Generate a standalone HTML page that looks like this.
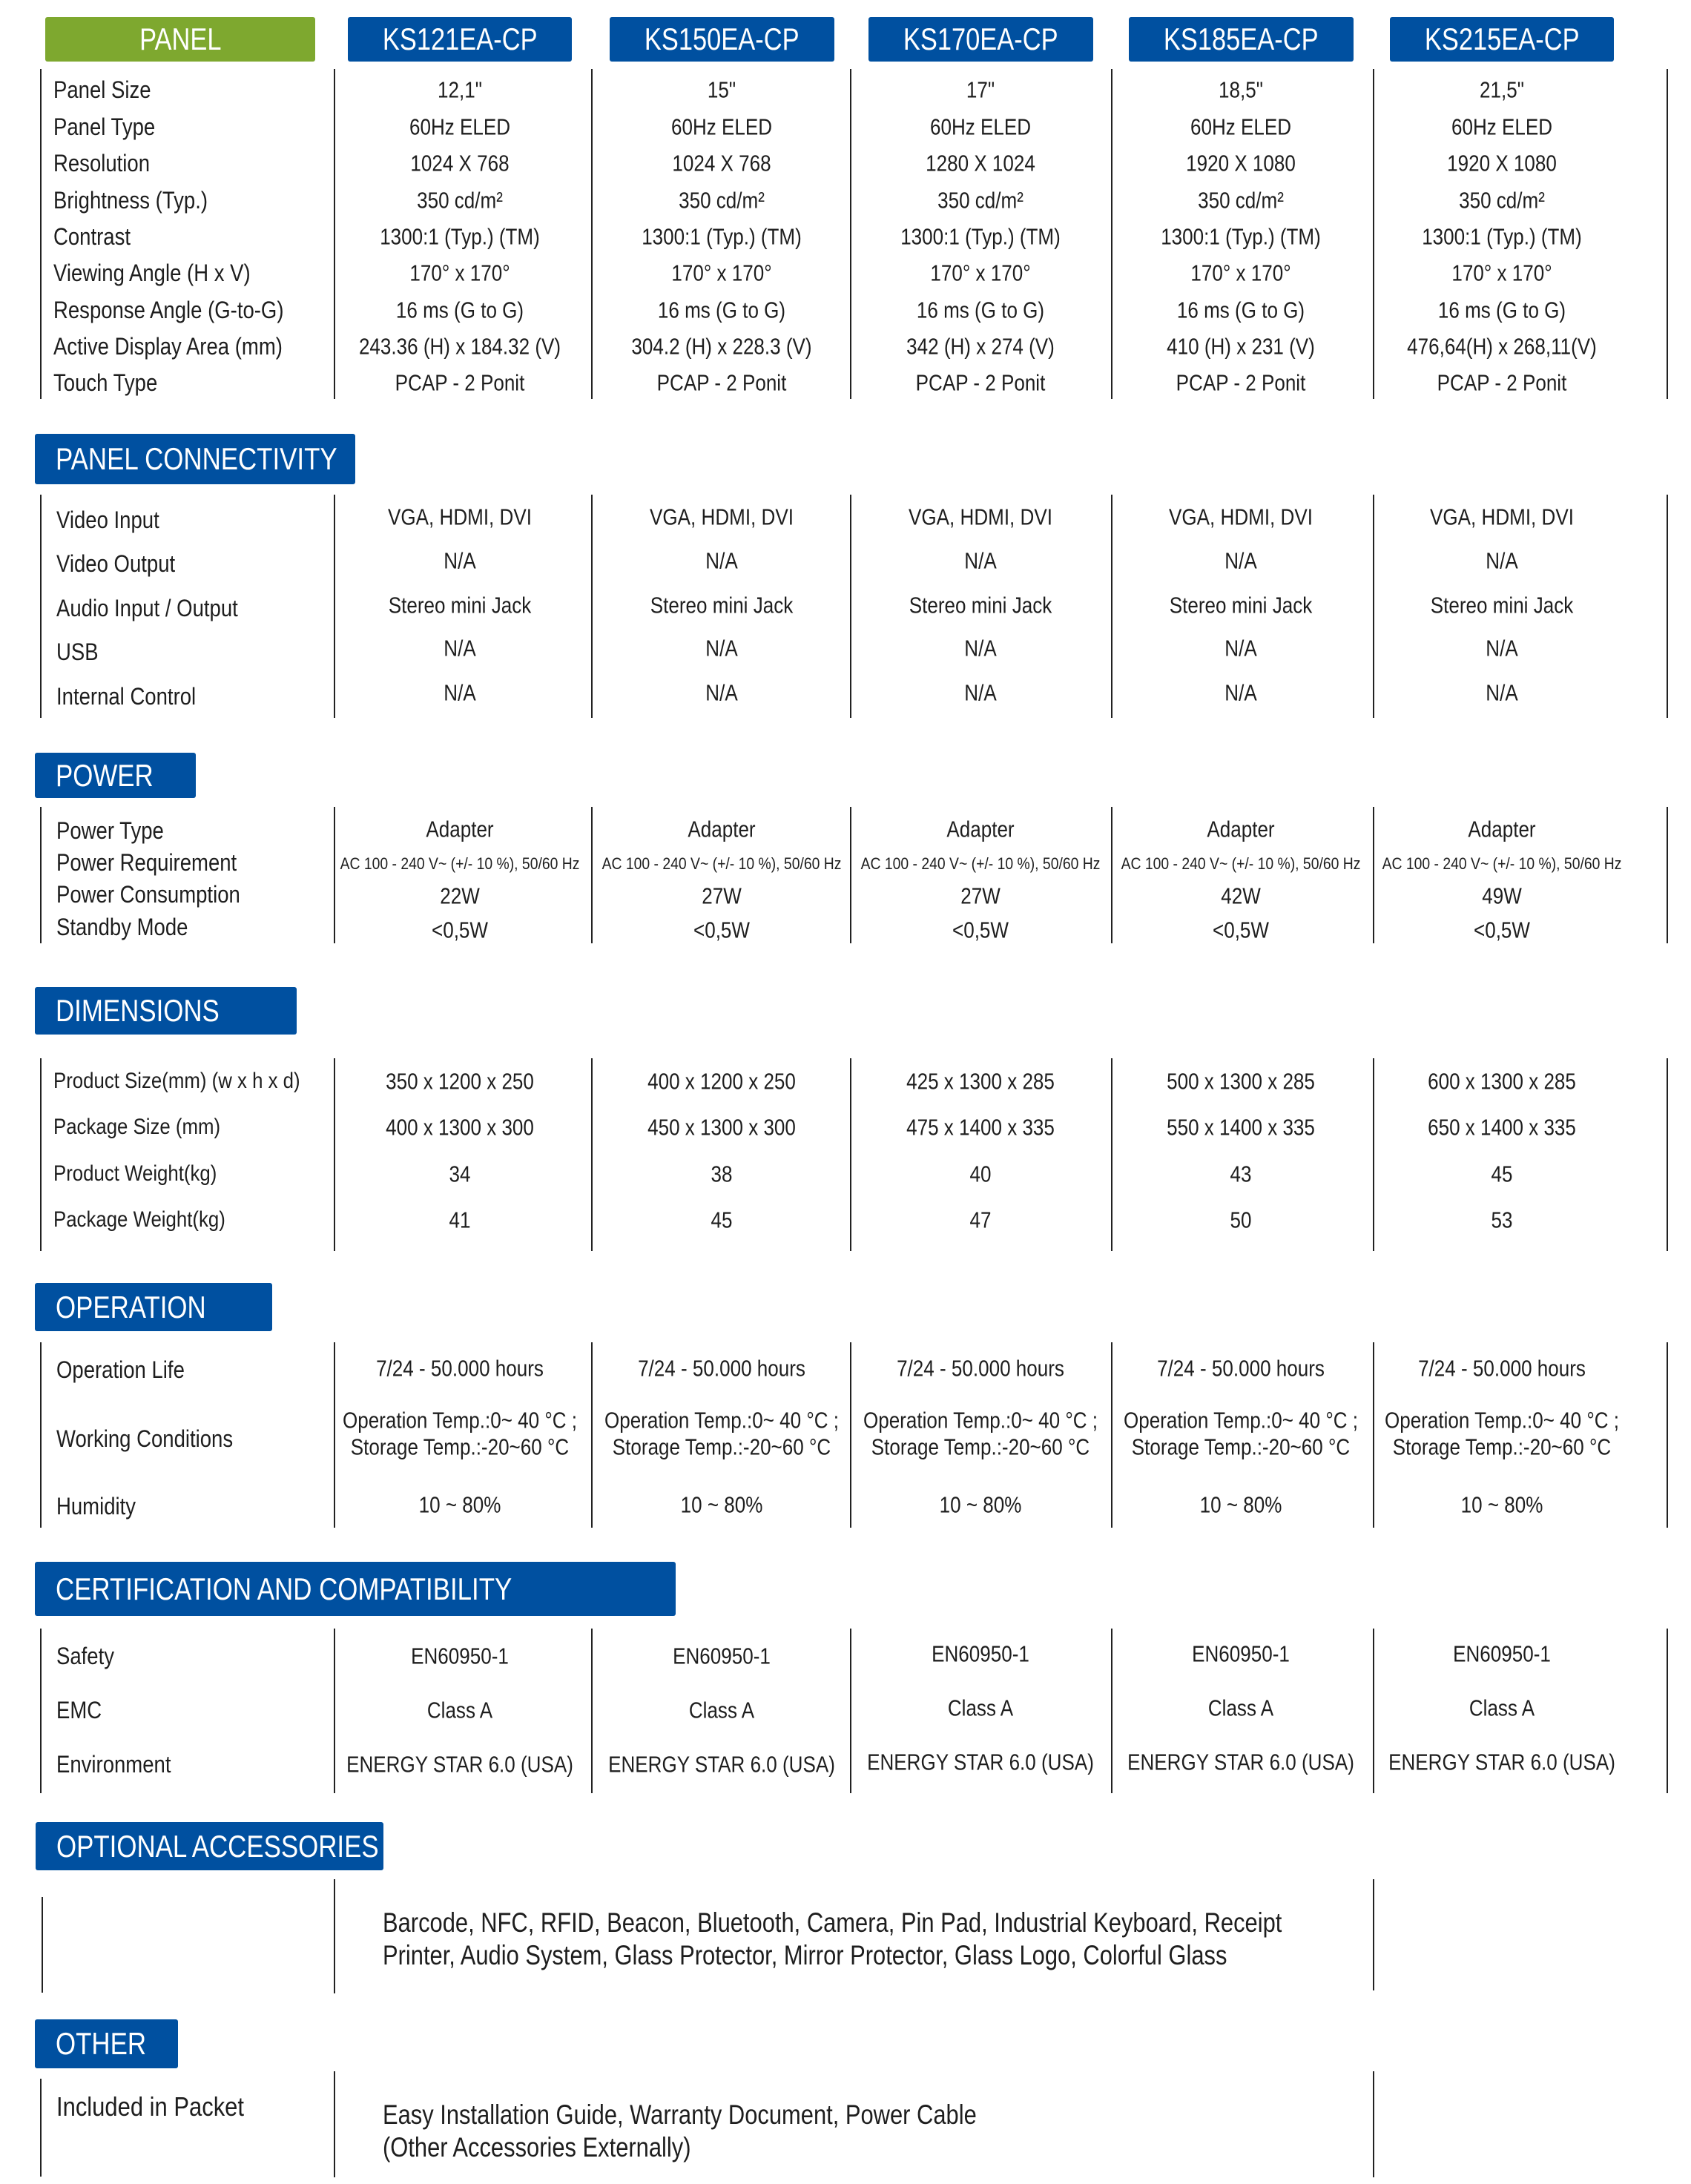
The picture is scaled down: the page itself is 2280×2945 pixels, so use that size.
<!DOCTYPE html>
<html><head><meta charset="utf-8"><style>
html,body{margin:0;padding:0;background:#fff;}
body{width:2280px;height:2945px;position:relative;overflow:hidden;font-family:"Liberation Sans Narrow","Liberation Sans",sans-serif;color:#1e1e1e;}
.h{position:absolute;background:#0050a0;color:#fff;font-size:42px;line-height:1;display:flex;align-items:center;border-radius:3px;box-sizing:border-box;white-space:nowrap;}
.h span{display:inline-block;transform:scaleX(.82);}
.hc{justify-content:center;}
.hl{padding-left:28px;}
.hl span{transform-origin:left center;transform:scaleX(.83);}
.g{background:#7ea82f;}
.v{position:absolute;width:2px;background:#222;}
.t{position:absolute;font-size:32px;line-height:1;white-space:nowrap;transform:translateY(-50%) scaleX(.86);transform-origin:left center;}
.c{font-size:31px;transform:translate(-50%,-50%) scaleX(.84);transform-origin:center center;}
.s{font-size:22px;transform:translate(-50%,-50%) scaleX(.88);}
.sm{font-size:30px;transform:translateY(-50%) scaleX(.86);}
.lg{font-size:36px;}
.big{font-size:37px;line-height:44px;transform:scaleX(.835);transform-origin:left top;}
</style></head><body>

<div class="h g hc" style="left:61px;top:23px;width:364px;height:60px;"><span>PANEL</span></div>
<div class="h hc" style="left:469px;top:23px;width:302px;height:60px;"><span>KS121EA-CP</span></div>
<div class="h hc" style="left:822px;top:23px;width:303px;height:60px;"><span>KS150EA-CP</span></div>
<div class="h hc" style="left:1171px;top:23px;width:303px;height:60px;"><span>KS170EA-CP</span></div>
<div class="h hc" style="left:1522px;top:23px;width:303px;height:60px;"><span>KS185EA-CP</span></div>
<div class="h hc" style="left:1874px;top:23px;width:302px;height:60px;"><span>KS215EA-CP</span></div>

<div class="h hl" style="left:47px;top:585px;width:432px;height:68px;"><span>PANEL CONNECTIVITY</span></div>
<div class="h hl" style="left:47px;top:1015px;width:217px;height:61px;"><span>POWER</span></div>
<div class="h hl" style="left:47px;top:1331px;width:353px;height:64px;"><span>DIMENSIONS</span></div>
<div class="h hl" style="left:47px;top:1730px;width:320px;height:65px;"><span>OPERATION</span></div>
<div class="h hl" style="left:47px;top:2106px;width:864px;height:73px;"><span>CERTIFICATION AND COMPATIBILITY</span></div>
<div class="h hl" style="left:48px;top:2457px;width:469px;height:65px;"><span>OPTIONAL ACCESSORIES</span></div>
<div class="h hl" style="left:47px;top:2723px;width:193px;height:66px;"><span>OTHER</span></div>

<div id="lines"></div>
<div id="txt"></div>

<script>
var X=[55,451,798,1147,1499,1852,2248];
var C=[620,973,1322,1673,2025];
var L=document.getElementById('lines'),T=document.getElementById('txt');
function vl(x,y1,y2){var d=document.createElement('div');d.className='v';d.style.left=(x-1)+'px';d.style.top=y1+'px';d.style.height=(y2-y1)+'px';L.appendChild(d);}
function tx(x,y,s,cls,center){var d=document.createElement('div');d.className='t'+(center?' c':'')+(cls?' '+cls:'');d.textContent=s;d.style.left=x+'px';d.style.top=y+'px';T.appendChild(d);}
function sec(y1,y2,labels,ly,lx,vals,vy,cls,lcls){X.forEach(function(x){vl(x,y1,y2)});
 labels.forEach(function(l,i){tx(lx,ly[i],l,lcls)});
 vals.forEach(function(v,i){C.forEach(function(c,k){var s=Array.isArray(v)?v[k]:v;tx(c,vy[i],s,cls&&cls[i],true)})});}

sec(93,538,["Panel Size","Panel Type","Resolution","Brightness (Typ.)","Contrast","Viewing Angle (H x V)","Response Angle (G-to-G)","Active Display Area (mm)","Touch Type"],
 [121,171,220,270,319,368,418,467,516],72,
 [["12,1\"","15\"","17\"","18,5\"","21,5\""],"60Hz ELED",["1024 X 768","1024 X 768","1280 X 1024","1920 X 1080","1920 X 1080"],"350 cd/m²","1300:1 (Typ.) (TM)","170° x 170°","16 ms (G to G)",
 ["243.36 (H) x 184.32 (V)","304.2 (H) x 228.3 (V)","342 (H) x 274 (V)","410 (H) x 231 (V)","476,64(H) x 268,11(V)"],"PCAP  - 2 Ponit"],
 [121,171,220,270,319,368,418,467,516]);

sec(667,968,["Video Input","Video Output","Audio Input / Output","USB","Internal Control"],[701,760,820,879,939],76,
 ["VGA, HDMI, DVI","N/A","Stereo mini Jack","N/A","N/A"],[697,756,816,874,934]);

sec(1088,1272,["Power Type","Power Requirement","Power Consumption","Standby Mode"],[1120,1163,1206,1250],76,
 ["Adapter","AC 100 - 240 V~ (+/- 10 %), 50/60 Hz",["22W","27W","27W","42W","49W"],"<0,5W"],[1118,1165,1208,1254],[null,'s',null,null]);

sec(1427,1687,["Product Size(mm) (w x h x d)","Package Size (mm)","Product Weight(kg)","Package Weight(kg)"],[1458,1520,1583,1645],72,
 [["350 x 1200 x 250","400 x 1200 x 250","425 x 1300 x 285","500 x 1300 x 285","600 x 1300 x 285"],
  ["400 x 1300 x 300","450 x 1300 x 300","475 x 1400 x 335","550 x 1400 x 335","650 x 1400 x 335"],
  ["34","38","40","43","45"],["41","45","47","50","53"]],[1458,1520,1583,1645],null,'sm');

sec(1810,2060,["Operation Life","Working Conditions","Humidity"],[1847,1940,2031],76,
 ["7/24 - 50.000 hours","Operation Temp.:0~ 40 °C ;","Storage Temp.:-20~60 °C","10 ~ 80%"],[1845,1915,1951,2029]);

X.forEach(function(x){vl(x,2196,2418)});
["Safety","EMC","Environment"].forEach(function(l,i){tx(76,[2233,2306,2379][i],l)});
C.forEach(function(c,k){var o=k<2?3:0;["EN60950-1","Class A","ENERGY STAR 6.0 (USA)"].forEach(function(s,i){tx(c,[2230,2303,2376][i]+o,s,null,true)})});

vl(57,2558,2687);vl(451,2534,2688);vl(1852,2534,2684);
vl(55,2803,2935);vl(451,2793,2936);vl(1852,2793,2936);
tx(76,2841,"Included in Packet","lg");
var a=document.createElement('div');a.className='t big';a.style.left='516px';a.style.top='2571px';a.innerHTML='Barcode, NFC, RFID, Beacon, Bluetooth, Camera, Pin Pad, Industrial Keyboard, Receipt<br>Printer, Audio System, Glass Protector, Mirror Protector, Glass Logo, Colorful Glass';T.appendChild(a);
var b=document.createElement('div');b.className='t big';b.style.left='516px';b.style.top='2830px';b.innerHTML='Easy Installation Guide, Warranty Document, Power Cable<br>(Other Accessories Externally)';T.appendChild(b);
</script>
</body></html>
